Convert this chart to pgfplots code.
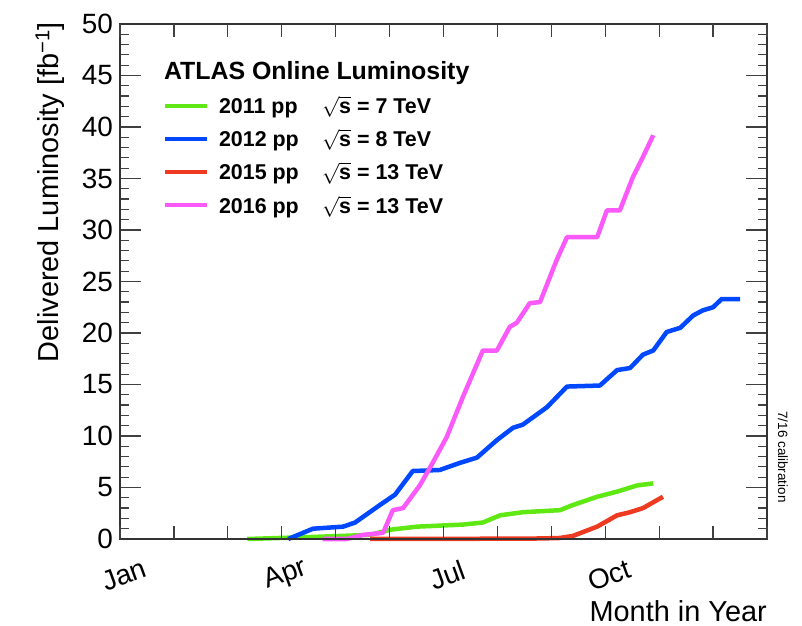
\documentclass[border=0pt]{standalone}
\usepackage{pgfplots}
\pgfplotsset{compat=1.18}
\usepackage{fontspec}
\setmainfont{Liberation Sans}

\definecolor{lumiA}{RGB}{96,232,20}
\definecolor{lumiB}{RGB}{0,72,255}
\definecolor{lumiC}{RGB}{238,58,32}
\definecolor{lumiD}{RGB}{250,90,250}

% x = months since 1 January, y = delivered luminosity in fb^-1
\pgfplotstableread{
x y
2.36 0
2.97 0.1
3.58 0.2
4.64 0.4
5.01 0.9
5.51 1.2
6.36 1.4
6.73 1.6
7.05 2.3
7.47 2.6
8.16 2.8
8.40 3.3
8.85 4.1
9.22 4.6
9.59 5.2
9.89 5.4
}\lumiEleven
\pgfplotstableread{
x y
3.12 0
3.58 1.0
4.14 1.2
4.36 1.6
4.82 3.3
5.10 4.3
5.43 6.6
5.93 6.7
6.31 7.4
6.62 7.9
6.99 9.6
7.29 10.8
7.47 11.1
7.92 12.8
8.29 14.8
8.90 14.9
9.22 16.4
9.46 16.6
9.70 17.9
9.89 18.3
10.14 20.1
10.39 20.5
10.63 21.7
10.81 22.2
11.00 22.5
11.16 23.3
11.50 23.3
}\lumiTwelve
\pgfplotstableread{
x y
4.64 0
6.49 0.02
7.79 0.05
8.16 0.1
8.40 0.3
8.85 1.2
9.22 2.3
9.46 2.6
9.70 3.0
10.07 4.1
}\lumiFifteen
\pgfplotstableread{
x y
3.76 0
4.21 0
4.51 0.4
4.88 0.6
5.06 2.8
5.25 3.0
5.56 5.2
5.80 7.4
6.06 9.9
6.36 13.8
6.73 18.3
6.99 18.3
7.23 20.6
7.36 21.0
7.60 22.9
7.79 23.0
8.10 27.1
8.29 29.3
8.85 29.3
9.03 31.9
9.27 31.9
9.51 35.1
9.70 37.1
9.89 39.2
}\lumiSixteen

\begin{document}
\begin{tikzpicture}
\begin{axis}[
  scale only axis, width=647bp, height=515bp,
  xmin=0, xmax=12, ymin=0, ymax=50,
  clip=false, axis on top,
  axis line style={line width=1.6bp, black!80},
  xtick=\empty,
  ytick={0,5,...,50},
  minor y tick num=4,
  tick align=inside, ytick pos=both,
  major tick length=21bp, minor tick length=9bp,
  every tick/.append style={line width=1.2bp, black!75},
  yticklabel style={font=\fontsize{28}{30}\selectfont, anchor=east, inner sep=0pt, xshift=-7bp},
  /pgf/number format/assume math mode=true,
  legend cell align=left,
  legend image code/.code={\draw[#1, line width=4bp] (0bp,0bp) -- (42bp,0bp);},
  legend style={draw=none, fill=none, inner sep=0pt, outer sep=0pt,
    at={(rel axis cs:0.0665,0.9212)}, anchor=north west,
    font=\bfseries\fontsize{21.5}{23}\selectfont,
    nodes={inner sep=0pt, text height=15.4bp, text depth=0pt},
    row sep=17.9bp,
    /tikz/every odd column/.append style={column sep=10bp}},
]
\addlegendimage{empty legend}
\addlegendentry{\hspace*{-55bp}\fontsize{25}{27}\selectfont ATLAS Online Luminosity}
\addplot[lumiA, line width=4.5bp, line join=round] table {\lumiEleven};
\addlegendentry{\makebox[103bp][l]{2011 pp}$\sqrt{\hbox{s}}$ = 7 TeV}
\addplot[lumiB, line width=4.5bp, line join=round] table {\lumiTwelve};
\addlegendentry{\makebox[103bp][l]{2012 pp}$\sqrt{\hbox{s}}$ = 8 TeV}
\addplot[lumiC, line width=4.5bp, line join=round] table {\lumiFifteen};
\addlegendentry{\makebox[103bp][l]{2015 pp}$\sqrt{\hbox{s}}$ = 13 TeV}
\addplot[lumiD, line width=4.5bp, line join=round] table {\lumiSixteen};
\addlegendentry{\makebox[103bp][l]{2016 pp}$\sqrt{\hbox{s}}$ = 13 TeV}
\end{axis}
% month ticks and labels
\begin{axis}[
  scale only axis, width=647bp, height=515bp,
  xmin=0, xmax=12, ymin=0, ymax=50,
  axis line style={draw=none},
  ytick=\empty,
  xtick={0,3,6,9},
  xticklabels={Jan,Apr,Jul,Oct},
  minor xtick={1,2,4,5,7,8,10,11,12},
  xtick pos=both, tick align=inside,
  major tick length=13bp, minor tick length=13bp,
  every tick/.append style={line width=1.2bp, black!75},
  xticklabel style={font=\fontsize{28}{30}\selectfont, inner sep=0pt,
    anchor=center, yshift=-36bp, xshift=4bp, rotate=20},
]
\end{axis}
\node[rotate=90, anchor=east, inner sep=0pt, font=\fontsize{29}{31}\selectfont]
  at (-70bp,517bp) {Delivered Luminosity [fb\textsuperscript{−1}]};
\node[anchor=north east, inner sep=0pt, font=\fontsize{29}{31}\selectfont]
  at (647bp,-61bp) {Month in Year};
\node[rotate=-90, inner sep=0pt, font=\fontsize{13.5}{15}\selectfont]
  at (663bp,82bp) {7/16 calibration};
\useasboundingbox (-120bp,-87bp) rectangle (682bp,539bp);
\end{tikzpicture}
\end{document}
